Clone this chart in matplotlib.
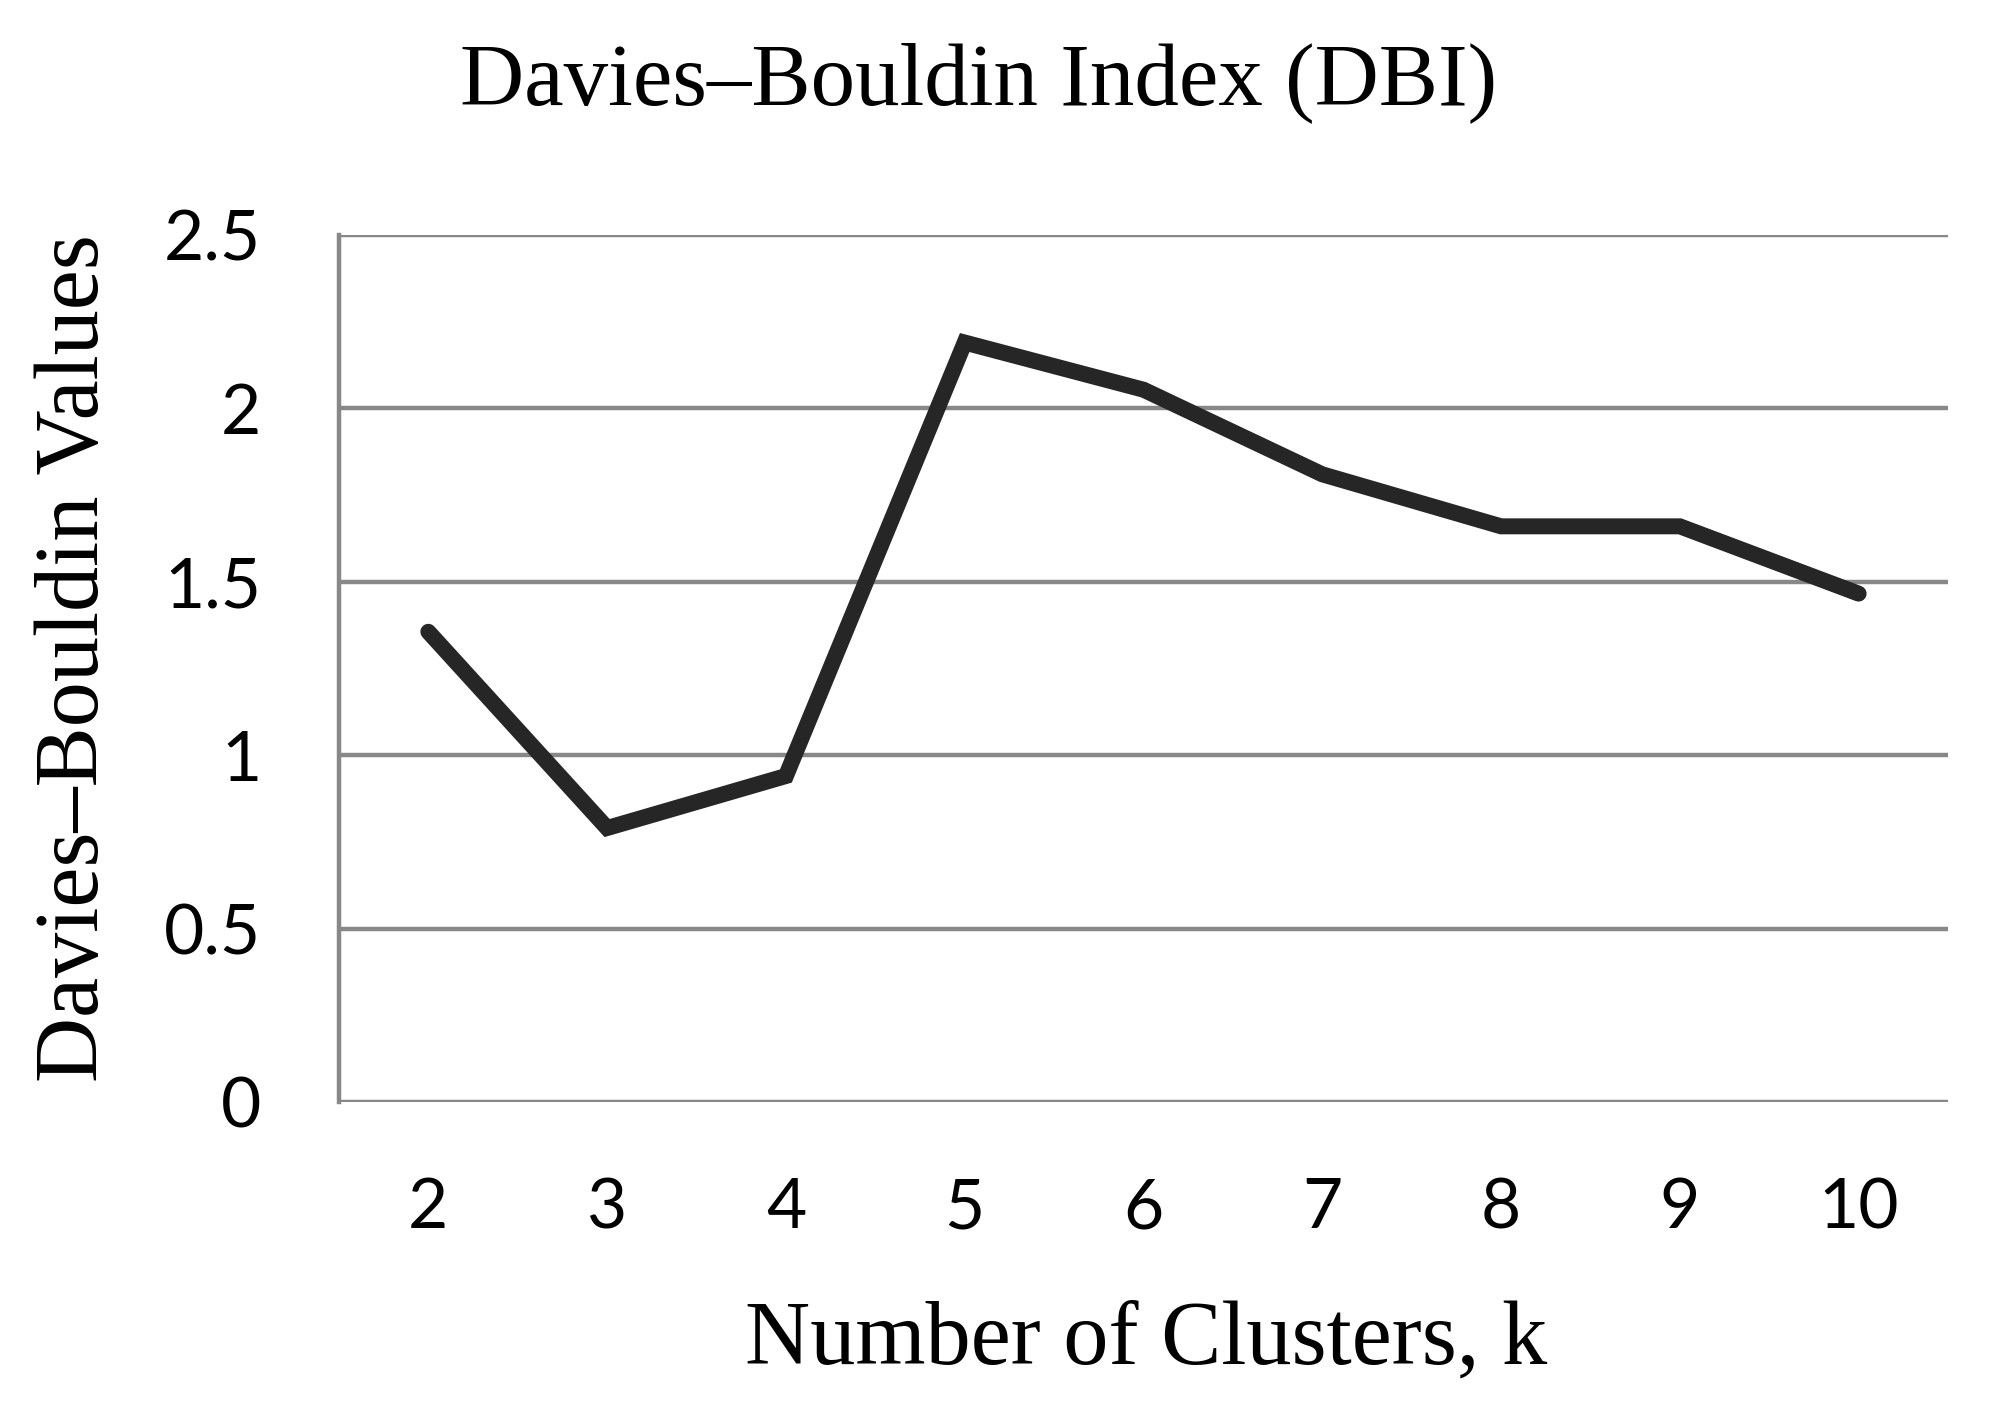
import matplotlib
matplotlib.use("Agg")
import matplotlib.pyplot as plt

clusters = ["2", "3", "4", "5", "6", "7", "8", "9", "10"]
dbi_values = [1.356, 0.79, 0.94, 2.19, 2.054, 1.81, 1.66, 1.66, 1.466]
y_ticks = [0, 0.5, 1, 1.5, 2, 2.5]
y_tick_labels = ["0", "0.5", "1", "1.5", "2", "2.5"]

grid_color = "#888888"

fig = plt.figure(figsize=(19.89, 14.15), dpi=100)
ax = fig.add_axes([0.1704, 0.2212, 0.809, 0.6127])

x = range(len(clusters))
ax.plot(x, dbi_values, color="#262626", linewidth=11.5,
        solid_capstyle="round", solid_joinstyle="miter")

ax.set_xlim(-0.5, len(clusters) - 0.5)
ax.set_ylim(0, 2.5)
ax.set_yticks(y_ticks)
ax.set_yticklabels(y_tick_labels)
ax.set_xticks(list(x))
ax.set_xticklabels(clusters)

ax.grid(axis="y", color=grid_color, linewidth=3.2)
ax.set_axisbelow(True)
for s in ["top", "right", "bottom"]:
    ax.spines[s].set_visible(False)
ax.spines["left"].set_color(grid_color)
ax.spines["left"].set_linewidth(3.2)

ax.tick_params(axis="both", length=0, labelsize=50)
ax.tick_params(axis="y", pad=56)
ax.tick_params(axis="x", pad=54)
for lab in ax.get_xticklabels() + ax.get_yticklabels():
    lab.set_fontfamily("Lato")

fig.text(0.492, 0.942, "Davies\u2013Bouldin Index (DBI)", ha="center", va="center",
         fontsize=64, family="Liberation Serif")
fig.text(0.576, 0.052, "Number of Clusters, k", ha="center", va="center",
         fontsize=65, family="Liberation Serif")
fig.text(0.038, 0.535, "Davies\u2013Bouldin Values", ha="center", va="center",
         rotation=90, fontsize=65, family="Liberation Serif")

fig.savefig("out.png", dpi=100, facecolor="white")
